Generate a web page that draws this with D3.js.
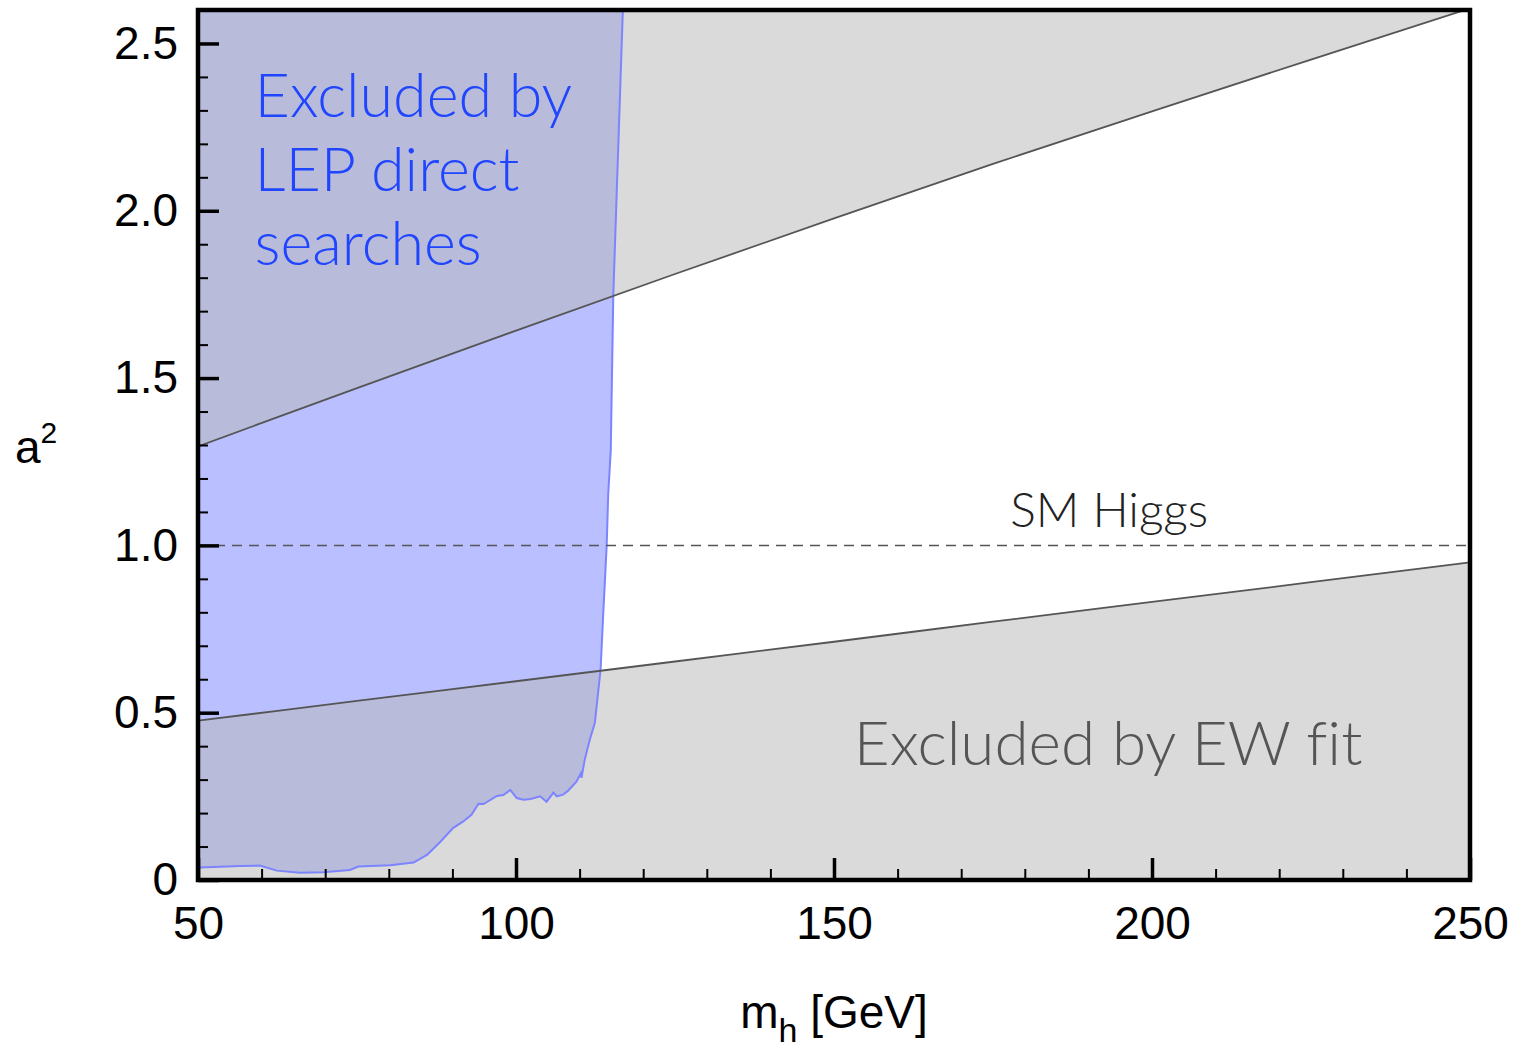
<!DOCTYPE html>
<html>
<head>
<meta charset="utf-8">
<script src="https://cdn.jsdelivr.net/npm/d3@7"></script>
<style>
  html, body { margin: 0; padding: 0; background: #fff; }
  svg { display: block; }
  .tick-label { font-family: "Liberation Sans", Arial, Helvetica, sans-serif; font-size: 46px; fill: #000; }
  .note { font-family: Lato, "Open Sans", sans-serif; font-weight: 300; font-variant-ligatures: none; }
</style>
</head>
<body>
<svg id="chart" width="1516" height="1048"></svg>
<script>
  'use strict';

  // LEP direct-search boundary (m_h, a^2)
  const lepMass = [50, 50.3, 56.6, 59.7, 62.4, 66, 69.7, 73.9, 75.2, 80.2, 83.9, 86, 88, 90.1, 91.7,
    93, 94.1, 94.9, 97, 98, 99.1, 100.1, 101.2, 102.3, 103.8, 104.8, 105.9, 106.4, 107.4, 108.2,
    109.5, 110.2, 110.3, 110.8, 111.6, 112.4, 113.3, 113.7, 114.26, 114.5, 114.9, 115.3, 116.8];
  const lepA2 = [0.037, 0.037, 0.042, 0.043, 0.028, 0.022, 0.023, 0.030, 0.040, 0.044, 0.052, 0.075,
    0.112, 0.155, 0.175, 0.195, 0.228, 0.227, 0.251, 0.254, 0.269, 0.245, 0.240, 0.242, 0.250,
    0.234, 0.261, 0.250, 0.255, 0.267, 0.294, 0.319, 0.305, 0.359, 0.419, 0.470, 0.629, 0.789,
    1.0, 1.153, 1.284, 1.750, 2.6];

  // EW fit bounds
  const ewMass = [50, 75, 100, 125, 150, 175, 200, 225, 250];
  const ewUpper = [1.296, 1.470, 1.642, 1.811, 1.977, 2.140, 2.297, 2.452, 2.605];
  const ewLower = [0.476, 0.535, 0.594, 0.653, 0.712, 0.772, 0.831, 0.890, 0.949];

  const smHiggs = 1.0;
  const xTicks = [50, 100, 150, 200, 250];
  const yTicks = [0, 0.5, 1.0, 1.5, 2.0, 2.5];

  const width = 1516;
  const height = 1048;
  const margin = { top: 10, right: 46, bottom: 168, left: 198 };
  const innerW = width - margin.left - margin.right;
  const innerH = height - margin.top - margin.bottom;

  const svg = d3.select('#chart');
  const g = svg.append('g').attr('transform', 'translate(' + margin.left + ',' + margin.top + ')');

  const x = d3.scaleLinear().domain([50, 250]).range([0, innerW]);
  const y = d3.scaleLinear().domain([0, 2.6]).range([innerH, 0]);

  g.append('clipPath').attr('id', 'plot-clip')
    .append('rect').attr('width', innerW).attr('height', innerH);
  const plot = g.append('g').attr('clip-path', 'url(#plot-clip)');

  // blue LEP region
  const lepPts = lepMass.map(function (m, i) { return [m, lepA2[i]]; });
  const polyLine = d3.line().x(function (d) { return x(d[0]); }).y(function (d) { return y(d[1]); });
  const smoothLine = d3.line().curve(d3.curveMonotoneX)
    .x(function (d) { return x(d[0]); }).y(function (d) { return y(d[1]); });
  plot.append('path')
    .attr('d', polyLine(lepPts.concat([[50, 2.6]])) + 'Z')
    .attr('fill', '#babfff');

  // grey EW-excluded regions
  const upperPts = ewMass.map(function (m, i) { return [m, ewUpper[i]]; });
  const lowerPts = ewMass.map(function (m, i) { return [m, ewLower[i]]; });
  const areaTop = d3.area().curve(d3.curveMonotoneX)
    .x(function (d) { return x(d[0]); }).y0(y(2.6)).y1(function (d) { return y(d[1]); });
  const areaBottom = d3.area().curve(d3.curveMonotoneX)
    .x(function (d) { return x(d[0]); }).y0(y(0)).y1(function (d) { return y(d[1]); });
  plot.append('path').attr('d', areaTop(upperPts)).attr('fill', 'rgb(184,184,184)').attr('fill-opacity', 0.52);
  plot.append('path').attr('d', areaBottom(lowerPts)).attr('fill', 'rgb(184,184,184)').attr('fill-opacity', 0.52);

  plot.append('path').attr('d', polyLine(lepPts))
    .attr('fill', 'none').attr('stroke', '#7c84ff').attr('stroke-width', 2);

  plot.append('path').attr('d', smoothLine(upperPts))
    .attr('fill', 'none').attr('stroke', '#555').attr('stroke-width', 1.8);
  plot.append('path').attr('d', smoothLine(lowerPts))
    .attr('fill', 'none').attr('stroke', '#555').attr('stroke-width', 1.8);

  plot.append('line')
    .attr('x1', x(50)).attr('x2', x(250)).attr('y1', y(smHiggs)).attr('y2', y(smHiggs))
    .attr('stroke', '#555').attr('stroke-width', 1.5).attr('stroke-dasharray', '10,7');

  // annotations
  const blueText = g.append('text').attr('class', 'note')
    .attr('fill', '#1f45ff').style('font-size', '61px');
  ['Excluded by', 'LEP direct', 'searches'].forEach(function (t, i) {
    blueText.append('tspan').attr('x', x(58.9)).attr('y', y([2.281, 2.060, 1.838][i])).text(t);
  });
  g.append('text').attr('class', 'note')
    .attr('x', x(177.7)).attr('y', y(1.054))
    .attr('fill', '#222').style('font-size', '48px').text('SM Higgs');
  g.append('text').attr('class', 'note')
    .attr('x', x(153.1)).attr('y', y(0.344))
    .attr('fill', '#555').style('font-size', '62px').text('Excluded by EW fit');

  // axes, ticks point inward
  const fmtY = function (d) { return d === 0 ? '0' : d3.format('.1f')(d); };
  const yMinor = d3.range(0, 2.61, 0.1).filter(function (v) { return Math.abs(v * 2 - Math.round(v * 2)) > 1e-6; });
  const xMinor = d3.range(50, 251, 10).filter(function (v) { return v % 50 !== 0; });

  const yAxisMinor = g.append('g').call(d3.axisLeft(y).tickValues(yMinor).tickSize(-10).tickFormat(''));
  const yAxis = g.append('g').call(d3.axisLeft(y).tickValues(yTicks).tickSize(-21).tickPadding(20).tickFormat(fmtY));
  const xAxisMinor = g.append('g').attr('transform', 'translate(0,' + innerH + ')')
    .call(d3.axisBottom(x).tickValues(xMinor).tickSize(-11).tickFormat(''));
  const xAxis = g.append('g').attr('transform', 'translate(0,' + innerH + ')')
    .call(d3.axisBottom(x).tickValues(xTicks).tickSize(-22).tickPadding(26).tickFormat(d3.format('d')));

  [yAxisMinor, yAxis, xAxisMinor, xAxis].forEach(function (a) { a.select('.domain').remove(); });
  yAxisMinor.selectAll('line').attr('stroke', '#000').attr('stroke-width', 2);
  xAxisMinor.selectAll('line').attr('stroke', '#000').attr('stroke-width', 2);
  yAxis.selectAll('line').attr('stroke', '#000').attr('stroke-width', 3.5);
  xAxis.selectAll('line').attr('stroke', '#000').attr('stroke-width', 3.5);
  yAxis.selectAll('text').attr('class', 'tick-label').attr('font-size', null).attr('font-family', null);
  xAxis.selectAll('text').attr('class', 'tick-label').attr('font-size', null).attr('font-family', null)
    .attr('dy', '0.71em');

  g.append('rect').attr('width', innerW).attr('height', innerH)
    .attr('fill', 'none').attr('stroke', '#000').attr('stroke-width', 4.5);

  // axis titles
  const xTitle = svg.append('text').attr('class', 'tick-label')
    .attr('x', margin.left + innerW / 2).attr('y', 1028).attr('text-anchor', 'middle');
  xTitle.append('tspan').text('m');
  xTitle.append('tspan').attr('dy', 14).style('font-size', '34px').text('h');
  xTitle.append('tspan').attr('dy', -14).text(' [GeV]');

  const yTitle = svg.append('text').attr('class', 'tick-label').attr('x', 15).attr('y', 463);
  yTitle.append('tspan').text('a');
  yTitle.append('tspan').attr('dy', -20).style('font-size', '30px').text('2');
</script>
</body>
</html>
